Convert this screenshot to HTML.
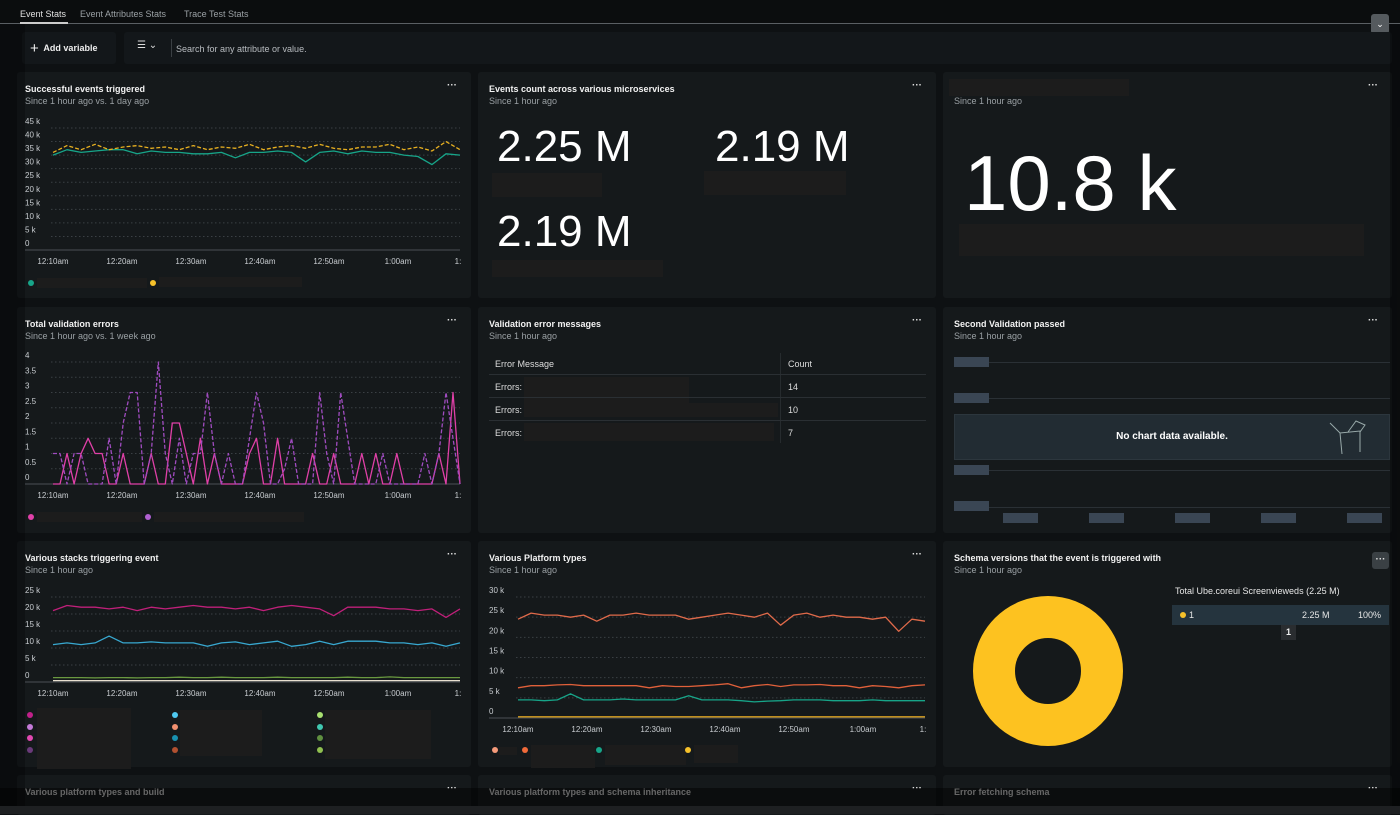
<!DOCTYPE html>
<html><head><meta charset="utf-8">
<style>
*{box-sizing:border-box;margin:0;padding:0}
body{width:1400px;height:814px;overflow:hidden;background:#0e1113;font-family:"Liberation Sans",sans-serif;color:#e6e8ea;position:relative}
.abs{position:absolute}
.card{position:absolute;background:#15191b;border-radius:3px}
.t{position:absolute;left:8px;top:12px;font-size:9px;font-weight:bold;color:#f2f2f2}
.s{position:absolute;left:8px;top:24px;font-size:9px;color:#9aa0a4}
.dots{position:absolute;right:14px;top:8px;font-size:10px;font-weight:bold;color:#ddd;letter-spacing:0}
.red{position:absolute;background:#1c1c1c}
.dot{position:absolute;width:6px;height:6px;border-radius:50%}
svg text{font-family:"Liberation Sans",sans-serif}
</style></head><body>
<div class="abs" style="left:0;top:0;width:1400px;height:24px;background:#0b0d0e;border-bottom:1px solid #5a5f63"></div>
<div class="abs" style="left:20px;top:9px;font-size:9px;color:#e0e0e0">Event Stats</div>
<div class="abs" style="left:20px;top:22px;width:48px;height:2px;background:#ccc"></div>
<div class="abs" style="left:80px;top:9px;font-size:9px;color:#9aa0a4">Event Attributes Stats</div>
<div class="abs" style="left:184px;top:9px;font-size:9px;color:#9aa0a4">Trace Test Stats</div>
<div class="abs" style="left:1371px;top:14px;width:18px;height:20px;background:#555a5e;border-radius:3px;color:#fff;font-size:9px;text-align:center;line-height:20px">⌄</div>

<div class="abs" style="left:22px;top:32px;width:94px;height:32px;background:#13171a;border-radius:3px;font-size:9px;font-weight:bold;color:#eee;line-height:32px;padding-left:8px"><span style="font-size:15px;font-weight:normal;vertical-align:-2px">+</span>&nbsp; Add variable</div>
<div class="abs" style="left:124px;top:32px;width:1268px;height:32px;background:#13171a;border-radius:3px"></div>
<div class="abs" style="left:137px;top:40px;font-size:10px;color:#ddd">☰ ⌄</div>
<div class="abs" style="left:171px;top:39px;width:1px;height:18px;background:#3a3f43"></div>
<div class="abs" style="left:176px;top:44px;font-size:9px;color:#b8bcc0">Search for any attribute or value.</div>

<!-- Row 1 -->
<div class="card" style="left:17px;top:72px;width:454px;height:226px">
<div class="t">Successful events triggered</div><div class="s">Since 1 hour ago vs. 1 day ago</div><div class="dots">···</div>
<div class="dot" style="left:11px;top:208px;background:#17a589"></div><div class="red" style="left:20px;top:206px;width:110px;height:10px"></div>
<div class="dot" style="left:133px;top:208px;background:#f6c12a"></div><div class="red" style="left:142px;top:205px;width:143px;height:10px"></div>
</div>
<div class="card" style="left:478px;top:72px;width:458px;height:226px">
<div class="t" style="left:11px">Events count across various microservices</div><div class="s" style="left:11px">Since 1 hour ago</div><div class="dots">···</div>
<div class="abs" style="left:19px;top:50px;font-size:44px;color:#fff">2.25 M</div>
<div class="abs" style="left:237px;top:50px;font-size:44px;color:#fff">2.19 M</div>
<div class="abs" style="left:19px;top:135px;font-size:44px;color:#fff">2.19 M</div>
<div class="red" style="left:14px;top:101px;width:110px;height:24px"></div>
<div class="red" style="left:226px;top:99px;width:142px;height:24px"></div>
<div class="red" style="left:14px;top:188px;width:171px;height:17px"></div>
</div>
<div class="card" style="left:943px;top:72px;width:449px;height:226px">
<div class="red" style="left:6px;top:7px;width:180px;height:17px"></div>
<div class="s" style="left:11px">Since 1 hour ago</div><div class="dots">···</div>
<div class="abs" style="left:21px;top:66px;font-size:78px;color:#fff">10.8 k</div>
<div class="red" style="left:16px;top:152px;width:405px;height:32px"></div>
</div>

<!-- Row 2 -->
<div class="card" style="left:17px;top:307px;width:454px;height:226px">
<div class="t">Total validation errors</div><div class="s">Since 1 hour ago vs. 1 week ago</div><div class="dots">···</div>
<div class="dot" style="left:11px;top:207px;background:#e040a8"></div><div class="red" style="left:20px;top:205px;width:105px;height:10px"></div>
<div class="dot" style="left:128px;top:207px;background:#b060d0"></div><div class="red" style="left:137px;top:205px;width:150px;height:10px"></div>
</div>
<div class="card" style="left:478px;top:307px;width:458px;height:226px">
<div class="t" style="left:11px">Validation error messages</div><div class="s" style="left:11px">Since 1 hour ago</div><div class="dots">···</div>
<div class="abs" style="left:302px;top:46px;width:1px;height:90px;background:#262b2e"></div>
<div class="abs" style="left:17px;top:52px;font-size:9px;color:#ddd">Error Message</div>
<div class="abs" style="left:310px;top:52px;font-size:9px;color:#ddd">Count</div>
<div class="abs" style="left:11px;top:67px;width:437px;height:1px;background:#2a2f33"></div>
<div class="abs" style="left:17px;top:75px;font-size:9px;color:#ddd">Errors:</div><div class="red" style="left:46px;top:70px;width:165px;height:28px"></div><div class="abs" style="left:310px;top:75px;font-size:9px;color:#ddd">14</div>
<div class="abs" style="left:11px;top:90px;width:437px;height:1px;background:#2a2f33"></div>
<div class="abs" style="left:17px;top:98px;font-size:9px;color:#ddd">Errors:</div><div class="red" style="left:46px;top:96px;width:254px;height:14px"></div><div class="abs" style="left:310px;top:98px;font-size:9px;color:#ddd">10</div>
<div class="abs" style="left:11px;top:113px;width:437px;height:1px;background:#2a2f33"></div>
<div class="abs" style="left:17px;top:121px;font-size:9px;color:#ddd">Errors:</div><div class="red" style="left:46px;top:116px;width:250px;height:18px"></div><div class="abs" style="left:310px;top:121px;font-size:9px;color:#ddd">7</div>
</div>
<div class="card" style="left:943px;top:307px;width:449px;height:226px">
<div class="t" style="left:11px">Second Validation passed</div><div class="s" style="left:11px">Since 1 hour ago</div><div class="dots">···</div>
<div class="abs" style="left:11px;top:55px;width:436px;height:1px;background:#2a3035"></div><div class="abs" style="left:11px;top:50px;width:35px;height:10px;background:#3a4654"></div>
<div class="abs" style="left:11px;top:91px;width:436px;height:1px;background:#2a3035"></div><div class="abs" style="left:11px;top:86px;width:35px;height:10px;background:#3a4654"></div>
<div class="abs" style="left:11px;top:107px;width:436px;height:46px;background:#222c33;border:1px solid #2c363d;font-size:10px;font-weight:bold;color:#fff;text-align:center;line-height:44px">No chart data available.</div>
<div class="abs" style="left:11px;top:163px;width:436px;height:1px;background:#2a3035"></div><div class="abs" style="left:11px;top:158px;width:35px;height:10px;background:#3a4654"></div>
<div class="abs" style="left:11px;top:200px;width:436px;height:1px;background:#2a3035"></div><div class="abs" style="left:11px;top:194px;width:35px;height:10px;background:#3a4654"></div>
<div class="abs" style="left:60px;top:206px;width:35px;height:10px;background:#3a4654"></div>
<div class="abs" style="left:146px;top:206px;width:35px;height:10px;background:#3a4654"></div>
<div class="abs" style="left:232px;top:206px;width:35px;height:10px;background:#3a4654"></div>
<div class="abs" style="left:318px;top:206px;width:35px;height:10px;background:#3a4654"></div>
<div class="abs" style="left:404px;top:206px;width:35px;height:10px;background:#3a4654"></div>
</div>

<!-- Row 3 -->
<div class="card" style="left:17px;top:541px;width:454px;height:226px">
<div class="t">Various stacks triggering event</div><div class="s">Since 1 hour ago</div><div class="dots">···</div>
<div class="dot" style="left:10px;top:171px;background:#c0208a"></div><div class="dot" style="left:10px;top:183px;background:#c47ad8"></div><div class="dot" style="left:10px;top:194px;background:#e048b0"></div><div class="dot" style="left:10px;top:206px;background:#6a3a7a"></div>
<div class="red" style="left:20px;top:167px;width:94px;height:61px"></div>
<div class="dot" style="left:155px;top:171px;background:#4ec8f0"></div><div class="dot" style="left:155px;top:183px;background:#f09070"></div><div class="dot" style="left:155px;top:194px;background:#1890b0"></div><div class="dot" style="left:155px;top:206px;background:#b05030"></div>
<div class="red" style="left:163px;top:169px;width:82px;height:46px"></div>
<div class="dot" style="left:300px;top:171px;background:#a8e070"></div><div class="dot" style="left:300px;top:183px;background:#40c8b0"></div><div class="dot" style="left:300px;top:194px;background:#609040"></div><div class="dot" style="left:300px;top:206px;background:#90c050"></div>
<div class="red" style="left:308px;top:169px;width:106px;height:49px"></div>
</div>
<div class="card" style="left:478px;top:541px;width:458px;height:226px">
<div class="t" style="left:11px">Various Platform types</div><div class="s" style="left:11px">Since 1 hour ago</div><div class="dots">···</div>
<div class="dot" style="left:14px;top:206px;background:#f59a7a"></div><div class="red" style="left:21px;top:206px;width:18px;height:8px"></div>
<div class="dot" style="left:44px;top:206px;background:#f06a3a"></div><div class="red" style="left:53px;top:204px;width:64px;height:23px"></div>
<div class="dot" style="left:118px;top:206px;background:#17a589"></div><div class="red" style="left:127px;top:204px;width:81px;height:20px"></div>
<div class="dot" style="left:207px;top:206px;background:#f6c12a"></div><div class="red" style="left:216px;top:204px;width:44px;height:18px"></div>
</div>
<div class="card" style="left:943px;top:541px;width:449px;height:226px">
<div class="t" style="left:11px">Schema versions that the event is triggered with</div><div class="s" style="left:11px">Since 1 hour ago</div>
<div class="abs" style="left:429px;top:11px;width:17px;height:17px;background:#3a4044;border-radius:3px;font-size:10px;font-weight:bold;text-align:center;line-height:15px;color:#ddd">···</div>
<div class="abs" style="left:232px;top:45px;font-size:9px;color:#e6e6e6">Total Ube.coreui Screenvieweds (2.25 M)</div>
<div class="abs" style="left:229px;top:64px;width:217px;height:20px;background:#25343e;font-size:9px;color:#e6e6e6">
<span class="dot" style="left:8px;top:7px;background:#f6c12a"></span><span class="abs" style="left:17px;top:5px">1</span><span class="abs" style="left:130px;top:5px">2.25 M</span><span class="abs" style="left:186px;top:5px">100%</span></div>
<div class="abs" style="left:338px;top:84px;width:15px;height:15px;background:#2a2d30;font-size:9px;font-weight:bold;text-align:center;line-height:15px;color:#eee">1</div>
</div>

<!-- Row 4 -->
<div class="card" style="left:17px;top:775px;width:454px;height:40px"><div class="t" style="color:#bbb">Various platform types and build</div><div class="dots">···</div></div>
<div class="card" style="left:478px;top:775px;width:458px;height:40px"><div class="t" style="left:11px;color:#bbb">Various platform types and schema inheritance</div><div class="dots">···</div></div>
<div class="card" style="left:943px;top:775px;width:449px;height:40px"><div class="t" style="left:11px;color:#bbb">Error fetching schema</div><div class="dots">···</div></div>
<div class="abs" style="left:0;top:788px;width:1400px;height:26px;background:rgba(0,0,0,0.45)"></div>
<div class="abs" style="left:0;top:806px;width:1400px;height:8px;background:#1e2022"></div>
<div class="abs" style="left:0;top:24px;width:25px;height:782px;background:rgba(0,0,0,0.25)"></div>
<div class="abs" style="left:1390px;top:24px;width:10px;height:782px;background:rgba(0,0,0,0.3)"></div>

<svg id="charts" class="abs" style="left:0;top:0" width="1400" height="814"></svg>
<svg class="abs" style="left:0;top:0" width="1400" height="814">
<circle cx="1048" cy="671" r="54" fill="none" stroke="#fdc220" stroke-width="42"/>
<g stroke="#9aa" fill="none" stroke-width="1"><path d="M1330 423 L1340 433 L1360 431 L1360 452 M1340 433 L1342 454 M1348 432 L1356 421 L1365 425 L1360 432"/></g>
</svg>

<script>
// ---- Chart 1: Successful events (k) ----
const c1Ticks = ['12:10am','12:20am','12:30am','12:40am','12:50am','1:00am','1:'];
const c1YTicks = [0,5,10,15,20,25,30,35,40,45];
const c1Current = [36,38.5,37,39,37,38,38.5,37.5,38,37,38.5,37,38,37.5,39,37,38,38.5,37.5,39,37.5,37,38,38,39,37,38,36.5,40,37];
const c1Previous = [35,37,36,36.5,37,37,35.5,36.5,36,36,35.5,35.5,36,34,36,36,36.5,36,32.5,36,36.5,35.5,36.5,36,36,35,34.5,31.5,35.5,35];
// ---- Chart 2: Validation errors ----
const c2YTicks = [0,0.5,1,1.5,2,2.5,3,3.5,4];
const c2Current = [0,0,1,0,1,1.5,1,1,0,0,1,0,0,0,1,0,0,2,2,1,0,1.5,0,1,0,0,0,0,1,1.5,0,0,1.5,0,0,0,0,1,0,0,1,0,0,0,1,0,1,0,0,1,0,0,0,0,0,1,0,3,0];
const c2Previous = [1,1,0,1,1,0,0,0,1.5,0,2,3,3,0,1,4,1,0,1.5,0,1,1,3,1,0,1,0,0,1.5,3,2,0,0,0.5,1.5,0,0,0,3,1,0,3,1.5,0,0,0,0,1,0,0,0,0,0,1,0,1,3,1.5,0];
// ---- Chart 3: Stacks (k) ----
const c3YTicks = [0,5,10,15,20,25];
const c3Magenta = [21,22.5,22,22,21.5,22,21,22,21.5,22,22.5,22,22,21.5,22,21,22,22.5,22,21.5,19.5,22,22,22,21.5,21.5,21,21.5,19,21.5];
const c3Cyan = [11,11.5,11,11.5,13.5,11.5,11.5,11.8,11.5,11.5,11.5,10.5,11.5,11.8,11,11.5,12,10.5,11,12,11,12,12,12,11.5,11.5,11,11.5,10.5,11.5];
const c3Green = [1.3,1.3,1.3,1.2,1.3,1.3,1.2,1.3,1.3,1.4,1.3,1.3,1.4,1.3,1.3,1.3,1.4,1.3,1.3,1.3,1.3,1.4,1.3,1.3,1.5,1.3,1.3,1.3,1.3,1.3];
const c3White = [0.4,0.4,0.4,0.4,0.4,0.4,0.4,0.4,0.4,0.4,0.4,0.4,0.4,0.4,0.4,0.4,0.4,0.4,0.4,0.4,0.4,0.4,0.4,0.4,0.4,0.4,0.4,0.4,0.4,0.4];
// ---- Chart 4: Platform types (k) ----
const c4YTicks = [0,5,10,15,20,25,30];
const c4Red = [24.5,26,25.5,25.5,25,25.5,24,25.5,25.5,26,25.5,25.5,25.5,24.5,25,25.5,26,25.5,25,26,23,25.5,26,25,25.5,25,25,24.5,25,21.5,24.5,24];
const c4Orange = [7.5,8,8,8.2,8.3,8,8,8,8,8,7.5,8,7.8,7.8,8,8.2,8.5,7.5,8,8.3,7.8,8.2,8.2,8.3,8,8,7.5,8,7.8,7.5,8,8.2];
const c4Teal = [4.5,4.5,4.3,4.5,6,4.5,4.5,4.5,4.7,4.5,4.5,4.5,4.5,5.5,4.5,4.5,4.5,4.3,4,4.2,4.3,4.5,4.5,4.5,4.3,4.3,4.3,4.5,4.3,4.3,4.3,4.3];
const c4Yellow = [0.3,0.3,0.3,0.3,0.3,0.3,0.3,0.3,0.3,0.3,0.3,0.3,0.3,0.3,0.3,0.3,0.3,0.3,0.3,0.3,0.3,0.3,0.3,0.3,0.3,0.3,0.3,0.3,0.3,0.3,0.3,0.3];

const NS='http://www.w3.org/2000/svg';
const svg=document.getElementById('charts');
function mk(tag,attrs,parent){const e=document.createElementNS(NS,tag);for(const k in attrs)e.setAttribute(k,attrs[k]);(parent||svg).appendChild(e);return e;}

function chart(cfg){
  const g=mk('g',{});
  
  
  const ymax=cfg.yTicks[cfg.yTicks.length-1];
  const y=v=>cfg.y0-(v/ymax)*(cfg.y0-cfg.y1);
  cfg.yTicks.forEach((t,i)=>{
    if(i>0){const l=mk('line',{x1:cfg.x0-2,x2:cfg.x1,y1:y(t),y2:y(t),stroke:'#3a4044','stroke-dasharray':'1.5 2.5','stroke-width':1},g);
      
      }
    const tx=mk('text',{x:cfg.lx,y:y(t)-4,fill:'#c8ccd0','font-size':8},g);tx.textContent=cfg.fmt(t);
    
    
  });
  const ax=mk('line',{x1:cfg.lx,x2:cfg.x1,y1:cfg.y0,y2:cfg.y0,stroke:'#4a5055','stroke-width':1},g);
  
  
  const step=(cfg.x1-cfg.x0)/5.9;
  c1Ticks.forEach((t,i)=>{
    const xx=i<6?cfg.x0+i*step:cfg.x1-2;
    const tx=mk('text',{x:xx,y:cfg.y0+14,fill:'#c8ccd0','font-size':8,'text-anchor':'middle'},g);tx.textContent=t;
    
    
  });
  cfg.series.forEach(s=>{
    const n=s.data.length;
    const pts=s.data.map((v,i)=>(cfg.x0+i*(cfg.x1-cfg.x0)/(n-1)).toFixed(1)+','+y(v).toFixed(1)).join(' ');
    const p=mk('polyline',{points:pts,fill:'none',stroke:s.color,'stroke-width':1.3,'stroke-dasharray':s.dash||'none','stroke-linejoin':'round'},g);
    
    
  });
}
const fk=t=>t===0?'0':t+' k';
chart({name:'successful-events-chart',x0:53,x1:460,lx:25,y0:250,y1:128,yTicks:c1YTicks,fmt:fk,series:[
  {name:'series-previous',data:c1Previous,color:'#17a589'},
  {name:'series-current',data:c1Current,color:'#e8b020',dash:'4 2'}]});
chart({name:'validation-errors-chart',x0:53,x1:460,lx:25,y0:484,y1:362,yTicks:c2YTicks,fmt:t=>String(t),series:[
  {name:'series-current',data:c2Current,color:'#e040a8'},
  {name:'series-previous',data:c2Previous,color:'#a04cc0',dash:'4 2'}]});
chart({name:'stacks-chart',x0:53,x1:460,lx:25,y0:682,y1:597,yTicks:c3YTicks,fmt:fk,series:[
  {name:'series-white',data:c3White,color:'#e8e0d0'},
  {name:'series-green',data:c3Green,color:'#6a9a40'},
  {name:'series-cyan',data:c3Cyan,color:'#38a8d0'},
  {name:'series-magenta',data:c3Magenta,color:'#c0207a'}]});
chart({name:'platform-types-chart',x0:518,x1:925,lx:489,y0:718,y1:597,yTicks:c4YTicks,fmt:fk,series:[
  {name:'series-yellow',data:c4Yellow,color:'#d8a020'},
  {name:'series-teal',data:c4Teal,color:'#17a589'},
  {name:'series-orange',data:c4Orange,color:'#e0603a'},
  {name:'series-red',data:c4Red,color:'#e06a4a'}]});
</script>
</body></html>
